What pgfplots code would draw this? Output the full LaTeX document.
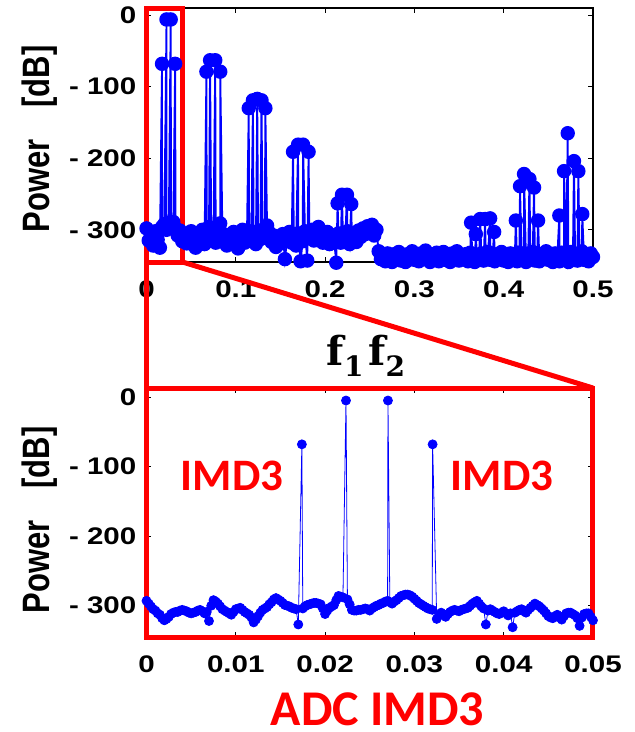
\documentclass[border=0pt]{standalone}
\usepackage[no-math]{fontspec}
\setmainfont{Liberation Sans}
\newfontfamily\tickfont{Liberation Sans}[FakeStretch=1.23]
\newfontfamily\calib{Carlito}
\newfontfamily\dvs{DejaVu Serif}
\usepackage{pgfplots}
\pgfplotsset{compat=1.18}
\usepackage{pgfplotstable}
\usepackage{graphicx}

\pgfplotstableread{
x y
0.0000 -298
0.0025 -315
0.0050 -305
0.0075 -322
0.0100 -302
0.0125 -314
0.0150 -325
0.0174 -68
0.0175 -296
0.0200 -292
0.0224 -6
0.0225 -300
0.0250 -290
0.0271 -6
0.0275 -296
0.0300 -289
0.0321 -68
0.0325 -298
0.0350 -308
0.0375 -301
0.0400 -316
0.0425 -306
0.0450 -319
0.0475 -309
0.0500 -302
0.0525 -317
0.0550 -325
0.0575 -306
0.0600 -313
0.0625 -300
0.0650 -320
0.0671 -79
0.0675 -308
0.0700 -296
0.0712 -63
0.0725 -312
0.0750 -303
0.0770 -63
0.0775 -318
0.0800 -299
0.0825 -291
0.0826 -79
0.0850 -305
0.0875 -314
0.0900 -322
0.0925 -307
0.0950 -316
0.0975 -303
0.1000 -310
0.1025 -326
0.1050 -312
0.1075 -300
0.1100 -318
0.1125 -306
0.1145 -130
0.1150 -315
0.1175 -302
0.1192 -119
0.1200 -309
0.1225 -320
0.1240 -117
0.1250 -305
0.1275 -313
0.1288 -119
0.1300 -300
0.1325 -311
0.1331 -130
0.1350 -294
0.1375 -304
0.1400 -317
0.1425 -308
0.1450 -324
0.1475 -312
0.1500 -319
0.1525 -306
0.1550 -341
0.1575 -314
0.1600 -303
0.1625 -318
0.1641 -191
0.1650 -309
0.1675 -322
0.1697 -181
0.1700 -305
0.1725 -344
0.1750 -316
0.1753 -181
0.1775 -302
0.1800 -343
0.1815 -191
0.1825 -311
0.1850 -300
0.1875 -315
0.1900 -306
0.1925 -296
0.1950 -304
0.1975 -318
0.2000 -310
0.2025 -303
0.2050 -320
0.2075 -308
0.2100 -314
0.2125 -346
0.2140 -263
0.2150 -305
0.2175 -318
0.2189 -251
0.2200 -309
0.2225 -315
0.2245 -251
0.2250 -302
0.2275 -320
0.2293 -264
0.2300 -311
0.2325 -306
0.2350 -317
0.2375 -301
0.2400 -310
0.2425 -298
0.2450 -306
0.2475 -295
0.2500 -303
0.2525 -293
0.2550 -308
0.2575 -300
0.2600 -330
0.2625 -341
0.2650 -335
0.2675 -344
0.2700 -333
0.2725 -339
0.2750 -345
0.2775 -334
0.2800 -340
0.2825 -331
0.2850 -343
0.2875 -337
0.2900 -345
0.2925 -334
0.2950 -339
0.2975 -330
0.3000 -342
0.3025 -336
0.3050 -344
0.3075 -333
0.3100 -340
0.3125 -329
0.3150 -338
0.3175 -345
0.3200 -335
0.3225 -341
0.3250 -332
0.3275 -344
0.3300 -337
0.3325 -331
0.3350 -342
0.3375 -336
0.3400 -345
0.3425 -333
0.3450 -339
0.3475 -330
0.3500 -343
0.3525 -336
0.3550 -341
0.3575 -334
0.3600 -344
0.3625 -332
0.3635 -290
0.3650 -339
0.3675 -345
0.3688 -306
0.3700 -335
0.3725 -340
0.3736 -285
0.3750 -333
0.3775 -343
0.3792 -285
0.3800 -337
0.3825 -331
0.3848 -284
0.3850 -342
0.3875 -336
0.3893 -303
0.3900 -344
0.3925 -334
0.3950 -339
0.3975 -331
0.4000 -343
0.4025 -336
0.4050 -345
0.4075 -333
0.4100 -340
0.4125 -335
0.4136 -287
0.4150 -344
0.4175 -332
0.4183 -239
0.4200 -341
0.4225 -337
0.4228 -222
0.4250 -345
0.4275 -333
0.4288 -229
0.4300 -339
0.4325 -331
0.4340 -241
0.4350 -343
0.4375 -336
0.4385 -287
0.4400 -344
0.4425 -334
0.4450 -340
0.4475 -330
0.4500 -342
0.4525 -337
0.4550 -345
0.4575 -333
0.4600 -339
0.4623 -280
0.4625 -344
0.4650 -332
0.4675 -340
0.4676 -218
0.4700 -336
0.4717 -165
0.4725 -345
0.4750 -331
0.4775 -341
0.4787 -204
0.4800 -334
0.4825 -343
0.4836 -218
0.4850 -337
0.4875 -330
0.4880 -278
0.4900 -342
0.4925 -336
0.4950 -344
0.4975 -333
0.5000 -338
}\topdata

\pgfplotstableread{
x y
0.00000 -293
0.00025 -297
0.00050 -301
0.00075 -305
0.00100 -307
0.00125 -311
0.00150 -313
0.00175 -318
0.00200 -321
0.00225 -319
0.00250 -316
0.00275 -312
0.00300 -310
0.00325 -309
0.00350 -309
0.00375 -307
0.00400 -306
0.00425 -307
0.00450 -308
0.00475 -310
0.00500 -311
0.00525 -310
0.00550 -309
0.00575 -307
0.00600 -306
0.00625 -308
0.00650 -311
0.00675 -309
0.00700 -322
0.00725 -300
0.00750 -292
0.00775 -294
0.00800 -297
0.00825 -301
0.00850 -305
0.00875 -307
0.00900 -309
0.00925 -311
0.00950 -313
0.00975 -309
0.01000 -305
0.01025 -304
0.01050 -303
0.01075 -306
0.01100 -309
0.01125 -311
0.01150 -313
0.01175 -317
0.01200 -324
0.01225 -320
0.01250 -315
0.01275 -310
0.01300 -306
0.01325 -304
0.01350 -302
0.01375 -298
0.01400 -295
0.01425 -291
0.01450 -289
0.01475 -291
0.01500 -293
0.01525 -296
0.01550 -299
0.01575 -300
0.01600 -301
0.01625 -303
0.01650 -304
0.01675 -305
0.01700 -327
0.01740 -68
0.01750 -304
0.01775 -301
0.01800 -299
0.01825 -298
0.01850 -297
0.01875 -296
0.01900 -296
0.01925 -297
0.01950 -298
0.01975 -304
0.02000 -312
0.02025 -307
0.02050 -303
0.02075 -301
0.02100 -299
0.02125 -292
0.02150 -286
0.02175 -287
0.02200 -288
0.02234 -5
0.02250 -291
0.02275 -298
0.02300 -306
0.02325 -307
0.02350 -307
0.02375 -306
0.02400 -306
0.02425 -305
0.02450 -304
0.02475 -305
0.02500 -307
0.02525 -304
0.02550 -302
0.02575 -300
0.02600 -299
0.02625 -297
0.02650 -296
0.02675 -294
0.02700 -293
0.02704 -5
0.02725 -295
0.02750 -297
0.02775 -294
0.02800 -292
0.02825 -289
0.02850 -286
0.02875 -285
0.02900 -284
0.02925 -284
0.02950 -285
0.02975 -287
0.03000 -290
0.03025 -293
0.03050 -296
0.03075 -298
0.03100 -300
0.03125 -302
0.03150 -304
0.03175 -305
0.03200 -306
0.03204 -68
0.03250 -319
0.03275 -314
0.03300 -310
0.03325 -313
0.03350 -316
0.03375 -312
0.03400 -309
0.03425 -307
0.03450 -306
0.03475 -307
0.03500 -308
0.03525 -306
0.03550 -305
0.03575 -304
0.03600 -303
0.03625 -300
0.03650 -297
0.03675 -295
0.03700 -293
0.03725 -297
0.03750 -301
0.03775 -304
0.03800 -327
0.03825 -307
0.03850 -305
0.03875 -307
0.03900 -309
0.03925 -311
0.03950 -312
0.03975 -310
0.04000 -308
0.04025 -311
0.04050 -314
0.04075 -311
0.04100 -331
0.04125 -310
0.04150 -308
0.04175 -306
0.04200 -305
0.04225 -308
0.04250 -310
0.04275 -306
0.04300 -303
0.04325 -300
0.04350 -297
0.04375 -299
0.04400 -301
0.04425 -304
0.04450 -307
0.04475 -311
0.04500 -315
0.04525 -317
0.04550 -318
0.04575 -315
0.04600 -313
0.04625 -317
0.04650 -320
0.04675 -315
0.04700 -311
0.04725 -310
0.04750 -310
0.04775 -312
0.04800 -314
0.04825 -318
0.04850 -329
0.04875 -317
0.04900 -312
0.04925 -311
0.04950 -311
0.04975 -316
0.05000 -321
}\botdata

\pgfplotsset{
  mystyle/.style={
    scale only axis, width=446.5pt, clip=false,
    scaled x ticks=false, scaled y ticks=false,
    axis line style={black, line width=1.2pt},
    tick style={black, line width=1pt},
    major tick length=5pt,
    ymin=-345,
    ytick={-300,-200,-100,0},
    yticklabels={- 300,- 200,- 100,0},
    tick label style={font=\tickfont\bfseries\fontsize{24}{24}\selectfont, inner sep=0pt},
    xticklabel style={anchor=north, yshift=-19pt},
    yticklabel style={anchor=east, xshift=-10pt},
  }
}
\newcommand{\sub}[1]{\raisebox{-11pt}{\fontsize{28}{28}\selectfont #1}}
\newcommand{\ffl}{{\dvs\bfseries\fontsize{40}{40}\selectfont f\sub{1}\hspace{5pt}f\sub{2}}}
\newcommand{\plabel}{\scalebox{1}[1.23]{Power\hspace{32pt}[dB]}}

\begin{document}
\begin{tikzpicture}
\useasboundingbox (-146.5pt,-470pt) rectangle (488.5pt,262pt);
\begin{axis}[mystyle, name=top, at={(0pt,0pt)}, anchor=south west,
  height=254pt, xmin=0, xmax=0.5, ymax=10,
  xtick={0,0.1,0.2,0.3,0.4,0.5},
  xticklabels={0,0.1,0.2,0.3,0.4,0.5}]
\draw[red, line width=5pt] (axis cs:0,-345) rectangle (axis cs:0.0403,10);
\addplot[blue, line width=1.8pt, mark=*, mark size=6.3pt,
  mark options={solid, fill=blue, draw=blue}] table[x=x, y=y] {\topdata};
\end{axis}
\begin{axis}[mystyle, name=bot, at={(0pt,-375pt)}, anchor=south west,
  height=249pt, xmin=0, xmax=0.05, ymax=13,
  xtick={0,0.01,0.02,0.03,0.04,0.05},
  xticklabels={0,0.01,0.02,0.03,0.04,0.05}]
\draw[red, line width=5pt] (axis cs:0,-345) rectangle (axis cs:0.05,13);
\addplot[blue, line width=0.8pt, mark=*, mark size=4.5pt,
  mark options={solid, fill=blue, draw=blue}] table[x=x, y=y] {\botdata};
\end{axis}
\draw[red, line width=5pt] (0pt,0pt) -- (0pt,-126pt);
\draw[red, line width=5pt] (36pt,0pt) -- (446.5pt,-126pt);
\node[anchor=base, inner sep=0pt] at (219.5pt,-103pt) {\ffl};
\node[anchor=base, inner sep=0pt, text=red, font=\calib\bfseries\fontsize{45}{45}\selectfont] at (85.5pt,-228.5pt) {IMD3};
\node[anchor=base, inner sep=0pt, text=red, font=\calib\bfseries\fontsize{45}{45}\selectfont] at (355.5pt,-228.5pt) {IMD3};
\node[anchor=base, inner sep=0pt, text=red, font=\calib\bfseries\fontsize{50}{50}\selectfont] at (231pt,-463pt) {\raisebox{0pt}[\height][0pt]{ADC IMD3}};
\node[rotate=90, anchor=base, inner sep=0pt, font=\bfseries\fontsize{31}{31}\selectfont] at (-96.5pt,123pt) {\plabel};
\node[rotate=90, anchor=base, inner sep=0pt, font=\bfseries\fontsize{31}{31}\selectfont] at (-96.5pt,-258pt) {\plabel};
\end{tikzpicture}
\end{document}
